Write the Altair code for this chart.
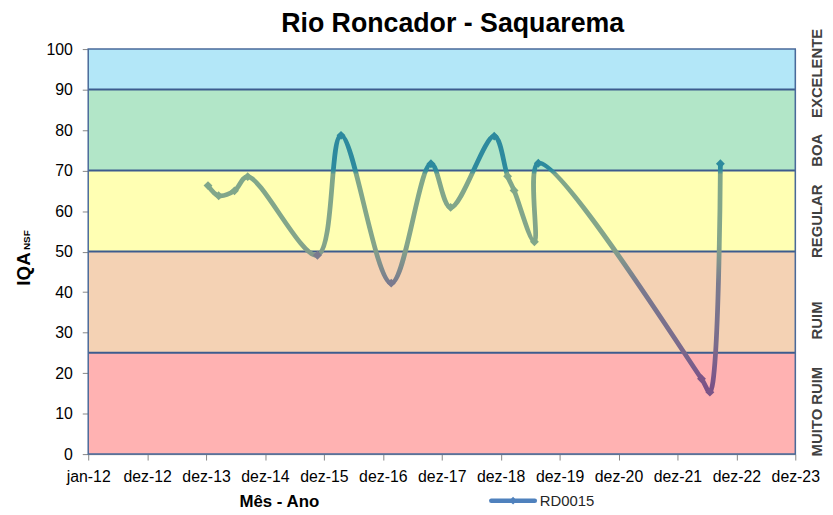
import altair as alt
import pandas as pd

# ---------------- data ----------------
sample_dates = ["2014-01-12", "2014-03-19", "2014-06-25", "2014-09-15", "2015-11-21",
                "2016-04-15", "2017-02-20", "2017-10-24", "2018-02-23", "2018-11-20",
                "2019-02-11", "2019-03-23", "2019-07-27", "2019-08-20", "2022-05-27",
                "2022-07-18", "2022-09-21"]
iqa_values = [66.3, 63.8, 65.0, 68.5, 49.1, 78.7, 42.2, 71.7, 60.9, 78.5,
              68.6, 65.1, 52.4, 71.8, 18.6, 15.3, 71.7]
x_tick_labels = ["jan-12", "dez-12", "dez-13", "dez-14", "dez-15", "dez-16", "dez-17",
                 "dez-18", "dez-19", "dez-20", "dez-21", "dez-22", "dez-23"]
y_ticks = [0, 10, 20, 30, 40, 50, 60, 70, 80, 90, 100]
band_lo = [0, 25, 50, 70, 90]
band_hi = [25, 50, 70, 90, 100]
band_fill = ["#FFB2B2", "#F4D2B4", "#FFFFB3", "#B2E6C8", "#B3E7F8"]
class_names = ["MUITO RUIM", "RUIM", "REGULAR", "BOA", "EXCELENTE"]
class_label_y = [10.5, 33, 57.5, 75, 94]
series_name = "RD0015"

# ---------------- derived tables ----------------
origin = pd.Timestamp("2012-01-01")
days = [(pd.Timestamp(d) - origin).days for d in sample_dates]
tick_vals = [365 * i for i in range(len(x_tick_labels))]
x_max = tick_vals[-1]

def band_color(v):
    if v >= 70:
        return "#2D8A9E"
    if v >= 50:
        return "#80A78A"
    if v >= 25:
        return "#7A7A8E"
    return "#7B5587"

pts = pd.DataFrame({"day": days, "iqa": iqa_values,
                    "mc": [band_color(v) for v in iqa_values]})
bands = pd.DataFrame({"lo": band_lo, "hi": band_hi, "fill": band_fill})
bounds = pd.DataFrame({"b": band_hi[:-1]})
labels_df = pd.DataFrame({"t": class_names, "y": class_label_y})

W, H = 714, 409
FONT = "Liberation Sans"

xs = alt.Scale(domain=[0, x_max], nice=False, zero=False)
ys = alt.Scale(domain=[0, 100], nice=False)

label_arr = "[" + ",".join("'%s'" % s for s in x_tick_labels) + "]"

band_layer = alt.Chart(bands).mark_rect().encode(
    x=alt.value(0), x2=alt.value(W),
    y=alt.Y("lo:Q", scale=ys, axis=alt.Axis(values=y_ticks, title=None, grid=False,
                                            labelFont=FONT, labelFontSize=16, labelColor="#000000",
                                            tickColor="#868686", tickSize=6, labelPadding=10,
                                            domainColor="#868686", labelFlush=False)),
    y2="hi:Q",
    color=alt.Color("fill:N", scale=None),
)

rule_layer = alt.Chart(bounds).mark_rule(color="#3D5C8E", strokeWidth=2).encode(
    y=alt.Y("b:Q", scale=ys), x=alt.value(0), x2=alt.value(W)
)

border = alt.Chart(pd.DataFrame({"k": [0]})).mark_rect(
    fillOpacity=0, stroke="#4A6A9A", strokeWidth=1.5
).encode(x=alt.value(0), x2=alt.value(W), y=alt.value(0), y2=alt.value(H))

top_v, bot_v = 79.2, 14.8
def off(v):
    return max(0.0, min(1.0, (top_v - v) / (top_v - bot_v)))

grad = alt.LinearGradient(
    gradient="linear",
    stops=[
        alt.GradientStop(color="#2D8A9E", offset=0.0),
        alt.GradientStop(color="#2D8A9E", offset=off(70.4)),
        alt.GradientStop(color="#80A78A", offset=off(69.4)),
        alt.GradientStop(color="#84A58A", offset=off(52)),
        alt.GradientStop(color="#7A7A8E", offset=off(42)),
        alt.GradientStop(color="#7A6C8C", offset=off(27)),
        alt.GradientStop(color="#7B5A8A", offset=off(20)),
        alt.GradientStop(color="#7B4F85", offset=1.0),
    ],
    x1=0, x2=0, y1=0, y2=1,
)

line = alt.Chart(pts).mark_line(
    interpolate="catmull-rom", strokeWidth=4.8, color=grad
).encode(
    x=alt.X("day:Q", scale=xs,
            axis=alt.Axis(values=tick_vals, labelExpr=label_arr + "[round(datum.value/365)]",
                          title=None, grid=False, labelFont=FONT, labelFontSize=16,
                          labelColor="#000000", tickColor="#868686", tickSize=6,
                          labelPadding=9, domainColor="#868686", labelOverlap=False,
                          labelFlush=False)),
    y=alt.Y("iqa:Q", scale=ys),
    order=alt.Order("day:Q"),
)

points = alt.Chart(pts).mark_point(shape="diamond", filled=True, size=80, opacity=1).encode(
    x=alt.X("day:Q", scale=xs),
    y=alt.Y("iqa:Q", scale=ys),
    color=alt.Color("mc:N", scale=None),
)

class_text = alt.Chart(labels_df).mark_text(
    angle=270, font=FONT, fontSize=15, fontWeight="bold", color="#404040",
    align="center", baseline="middle"
).encode(x=alt.value(736), y=alt.Y("y:Q", scale=ys), text="t:N")

def txt(s, x, y, **kw):
    return alt.Chart(pd.DataFrame({"t": [s]})).mark_text(font=FONT, **kw).encode(
        x=alt.value(x), y=alt.value(y), text="t:N")

title = txt("Rio Roncador - Saquarema", 368, -25, fontSize=27, fontWeight="bold",
            color="#000000", align="center", baseline="middle")
ytitle1 = txt("IQA", -65, 222, fontSize=19, fontWeight="bold", color="#000000",
              align="center", baseline="middle", angle=270)
ytitle2 = txt("NSF", -62, 193, fontSize=10, fontWeight="bold", color="#000000",
              align="center", baseline="middle", angle=270)
xtitle = txt("Mês - Ano", 193, 457, fontSize=17, fontWeight="bold", color="#000000",
             align="center", baseline="middle")

leg_line = alt.Chart(pd.DataFrame({"k": [0]})).mark_rule(
    color="#4F81BD", strokeWidth=4.5, strokeCap="round"
).encode(x=alt.value(407), x2=alt.value(451), y=alt.value(456))
leg_pt = alt.Chart(pd.DataFrame({"k": [0]})).mark_point(
    shape="diamond", filled=True, size=60, color="#4F81BD", opacity=1
).encode(x=alt.value(429), y=alt.value(456))
leg_txt = txt(series_name, 456, 456, fontSize=15, color="#262626",
              align="left", baseline="middle")

chart = alt.layer(
    band_layer, rule_layer, border, line, points, class_text,
    title, ytitle1, ytitle2, xtitle, leg_line, leg_pt, leg_txt
).properties(
    width=W, height=H,
    autosize=alt.AutoSizeParams(type="none"),
    padding={"left": 81, "top": 39, "right": 30, "bottom": 58},
).configure_view(stroke=None).configure(background="#FFFFFF")

chart.save("out.html", embed_options={"renderer": "svg", "actions": False})
